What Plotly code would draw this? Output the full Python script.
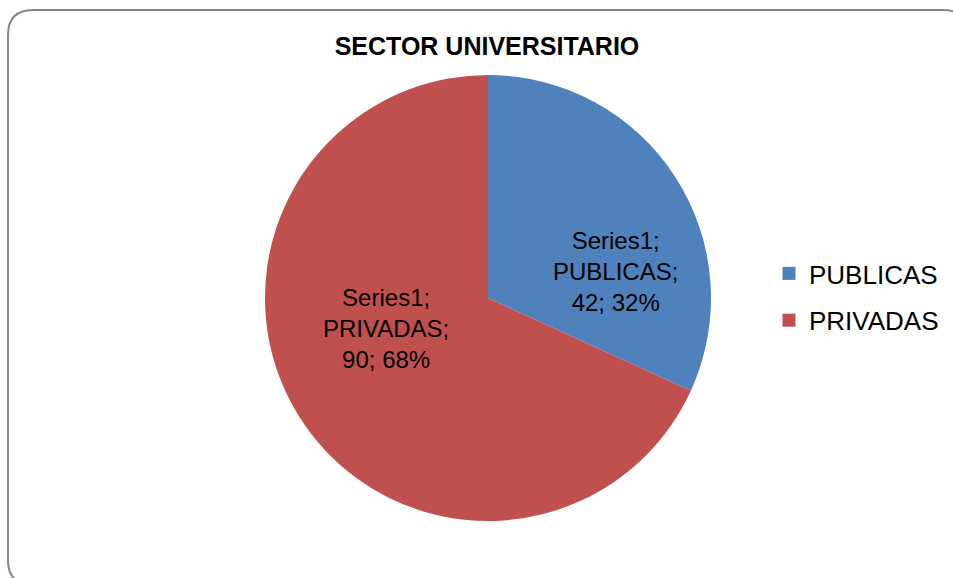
import plotly.graph_objects as go

title_text = "SECTOR UNIVERSITARIO"
series_name = "Series1"
categories = ["PUBLICAS", "PRIVADAS"]
values = [42, 90]
colors = ["#4F81BD", "#C0504D"]

W, H = 953, 578
FONT = "Liberation Sans, Arial"

total = sum(values)
label_texts = [
    f"{series_name};<br>{c};<br>{v}; {round(100 * v / total)}%"
    for c, v in zip(categories, values)
]
# label box centres (pixels from top-left), layout only
label_pos = [(615, 271), (386, 328)]

fig = go.Figure()

fig.add_trace(go.Pie(
    labels=categories,
    values=values,
    sort=False,
    direction="clockwise",
    rotation=0,
    marker=dict(colors=colors, line=dict(width=0)),
    textinfo="none",
    showlegend=False,
    hoverinfo="skip",
    domain=dict(x=[265 / W, 711 / W], y=[1 - 521 / H, 1 - 75 / H]),
))

for name, col in zip(categories, colors):
    fig.add_trace(go.Scatter(
        x=[None], y=[None], mode="markers", name=name, legendgroup=name,
        marker=dict(symbol="square", size=13, color=col),
    ))

annotations = [
    dict(text=t, x=px / W, y=1 - py / H, xref="paper", yref="paper",
         xanchor="center", yanchor="middle", showarrow=False, align="center",
         font=dict(family=FONT, size=24, color="black"))
    for t, (px, py) in zip(label_texts, label_pos)
]

fig.update_layout(
    width=W, height=H,
    margin=dict(l=0, r=0, t=0, b=0),
    paper_bgcolor="white",
    plot_bgcolor="white",
    xaxis=dict(visible=False),
    yaxis=dict(visible=False),
    title=dict(text="<b>" + title_text + "</b>", x=487 / W, xanchor="center",
               y=1 - 46 / H, yanchor="middle",
               font=dict(family=FONT, size=25, color="black")),
    legend=dict(x=769 / W, y=1 - 297 / H, xanchor="left", yanchor="middle",
                font=dict(family=FONT, size=26, color="black"),
                tracegroupgap=10, bgcolor="rgba(0,0,0,0)"),
    annotations=annotations,
    shapes=[dict(
        type="path", xref="paper", yref="paper",
        xsizemode="pixel", ysizemode="pixel", xanchor=0, yanchor=1,
        path="M 8,-35 Q 8,-10 33,-10 L 943,-10 Q 968,-10 968,-35 "
             "L 968,-560 Q 968,-585 943,-585 L 33,-585 Q 8,-585 8,-560 Z",
        line=dict(color="#868686", width=2), fillcolor="rgba(0,0,0,0)",
    )],
)

fig.write_html(
    "out.html",
    config={"displayModeBar": False},
    post_script="document.body.style.margin='0';document.body.style.overflow='hidden';",
)
